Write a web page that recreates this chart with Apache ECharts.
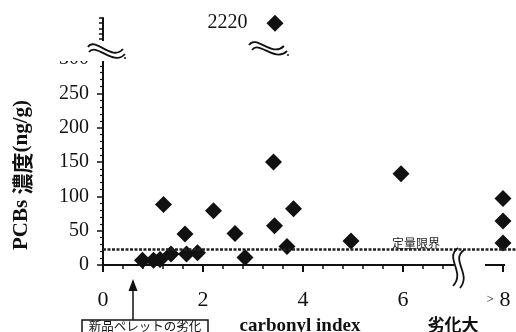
<!DOCTYPE html>
<html>
<head>
<meta charset="utf-8">
<script src="https://cdn.jsdelivr.net/npm/echarts@6/dist/echarts.min.js"></script>
<style>
  html, body { margin: 0; padding: 0; background: #fff; }
  #chart { width: 516px; height: 332px; }
</style>
</head>
<body>
<div id="chart"></div>
<script>
// carbonyl index vs PCBs concentration (ng/g)
var points = [
  [0.79, 7], [1.01, 7], [1.14, 8],
  [1.36, 16], [1.67, 16], [1.89, 18],
  [1.64, 45], [1.21, 88], [2.21, 79],
  [2.64, 46], [2.84, 11],
  [3.41, 150], [3.81, 82], [3.43, 57], [3.68, 27],
  [4.96, 35], [5.96, 133],
  [8, 97], [8, 64], [8, 32]
];
var outlier = [[3.44, 2220]];
var loq = 23; // 定量限界

var xLabelValues = [0, 2, 4, 6, 8];
var xMajorTicks = [0, 2, 4, 6, 8];
var xMinorTicks = [0.4, 0.8, 1.2, 1.6, 2.4, 2.8, 3.2, 3.6, 4.4, 4.8, 5.2, 5.6, 6.4, 6.8];

var SERIF = "'Liberation Serif', 'Times New Roman', serif";
var CJK = "'Noto Sans CJK JP', 'Noto Sans', sans-serif";
var INK = '#111';

var chart = echarts.init(document.getElementById('chart'));

function curve(x1, y1, cx1, cy1, cx2, cy2, x2, y2) {
  return {
    type: 'bezierCurve', z: 110,
    shape: { x1: x1, y1: y1, cpx1: cx1, cpy1: cy1, cpx2: cx2, cpy2: cy2, x2: x2, y2: y2 },
    style: { stroke: INK, lineWidth: 1.8, fill: null }
  };
}

chart.setOption({
  animation: false,
  backgroundColor: '#fff',
  grid: [
    { left: 103, right: 0, top: 59, bottom: 67 },
    { left: 103, right: 0, top: 18, height: 26 }
  ],
  xAxis: [
    {
      gridIndex: 0, type: 'value', min: 0, max: 8.26,
      axisLine: { show: true, onZero: false, lineStyle: { color: INK, width: 2 } },
      axisTick: { show: true, customValues: xMajorTicks, length: 7, lineStyle: { color: INK, width: 2 } },
      axisLabel: {
        customValues: xLabelValues, margin: 24, color: INK, fontSize: 22, fontFamily: SERIF,
        formatter: function (v) { return v === 8 ? '{s|>} {v|8}' : String(v); },
        rich: {
          s: { fontSize: 13, fontFamily: SERIF, color: INK },
          v: { fontSize: 22, fontFamily: SERIF, color: INK, padding: [0, 9, 0, 0] }
        }
      },
      splitLine: { show: false }
    },
    {
      gridIndex: 0, type: 'value', min: 0, max: 8.26, position: 'bottom',
      axisLine: { show: false },
      axisTick: { show: true, customValues: xMinorTicks, length: 4, lineStyle: { color: INK, width: 1.5 } },
      axisLabel: { show: false },
      splitLine: { show: false }
    },
    { gridIndex: 1, type: 'value', min: 0, max: 8.26, show: false }
  ],
  yAxis: [
    {
      gridIndex: 0, type: 'value', min: 0, max: 300, interval: 50,
      axisLine: { show: true, onZero: false, lineStyle: { color: INK, width: 2 } },
      axisTick: { show: true, length: 6, lineStyle: { color: INK, width: 1.5 } },
      minorTick: { show: true, splitNumber: 5, length: 3, lineStyle: { color: INK, width: 1.2 } },
      axisLabel: { margin: 14, color: INK, fontSize: 20, fontFamily: SERIF },
      splitLine: { show: false }
    },
    {
      gridIndex: 1, type: 'value', min: 2180, max: 2230, interval: 10,
      axisLine: { show: true, onZero: false, lineStyle: { color: INK, width: 2 } },
      axisTick: { show: true, length: 4, lineStyle: { color: INK, width: 1.5 } },
      axisLabel: { show: false },
      splitLine: { show: false }
    }
  ],
  series: [
    {
      type: 'scatter', xAxisIndex: 0, yAxisIndex: 0, data: points,
      symbol: 'diamond', symbolSize: 17, clip: false,
      itemStyle: { color: INK, opacity: 1 },
      markLine: {
        silent: true, symbol: 'none', label: { show: false },
        lineStyle: { color: '#222', type: [3, 1.5], width: 2.5, opacity: 1 },
        data: [{ yAxis: loq }]
      }
    },
    {
      type: 'scatter', xAxisIndex: 2, yAxisIndex: 1, data: outlier,
      symbol: 'diamond', symbolSize: 17, clip: false,
      itemStyle: { color: INK, opacity: 1 },
      label: {
        show: true, position: 'left', distance: 19, color: INK, fontSize: 20, fontFamily: SERIF,
        formatter: function (p) { return String(p.value[1]); }
      }
    }
  ],
  graphic: [
    // axis breaks: white cover + wavy marks
    { type: 'rect', z: 100, shape: { x: 40, y: 41, width: 66, height: 20 }, style: { fill: '#fff' } },
    { type: 'rect', z: 100, shape: { x: 454, y: 261, width: 31, height: 14 }, style: { fill: '#fff' } },
    { type: 'rect', z: 100, shape: { x: 505, y: 261, width: 11, height: 5 }, style: { fill: '#fff' } },
    curve(88, 47, 95, 36, 112, 62, 123, 49),
    curve(89, 52, 96, 42, 114, 67, 125, 54),
    { type: 'circle', z: 110, shape: { cx: 125, cy: 58, r: 1 }, style: { fill: INK } },
    curve(249, 45, 256, 34, 272, 58, 284, 46),
    curve(252, 50, 259, 40, 275, 63, 287, 51),
    { type: 'circle', z: 110, shape: { cx: 288, cy: 55, r: 1 }, style: { fill: INK } },
    curve(458, 248, 444, 258, 466, 272, 453, 286),
    curve(464, 250, 450, 260, 472, 274, 460, 288),
    // labels
    {
      type: 'text', z: 110, x: 392, y: 243,
      style: { text: '定量限界', font: '12px ' + CJK, fill: '#222', verticalAlign: 'middle' }
    },
    {
      type: 'text', z: 110, x: 22, y: 175, rotation: Math.PI / 2,
      style: {
        text: '{a|PCBs }{b|濃度}{a|(ng/g)}', align: 'center', verticalAlign: 'middle',
        rich: {
          a: { fontSize: 21, fontWeight: 'bold', fontFamily: SERIF, fill: INK },
          b: { fontSize: 21, fontWeight: 'bold', fontFamily: CJK, fill: INK }
        }
      }
    },
    {
      type: 'text', z: 110, x: 300, y: 326,
      style: { text: 'carbonyl index', font: 'bold 19px ' + SERIF, fill: INK, align: 'center', verticalAlign: 'middle' }
    },
    {
      type: 'text', z: 110, x: 453, y: 325,
      style: { text: '劣化大', font: 'bold 17px ' + CJK, fill: INK, align: 'center', verticalAlign: 'middle' }
    },
    {
      type: 'rect', z: 110, shape: { x: 82, y: 320, width: 126, height: 16 },
      style: { fill: '#fff', stroke: INK, lineWidth: 1.5 }
    },
    {
      type: 'text', z: 111, x: 145, y: 326.5,
      style: { text: '新品ペレットの劣化', font: '12.5px ' + CJK, fill: INK, align: 'center', verticalAlign: 'middle' }
    },
    { type: 'line', z: 110, shape: { x1: 133, y1: 320, x2: 133, y2: 288 }, style: { stroke: INK, lineWidth: 1.5 } },
    { type: 'polygon', z: 110, shape: { points: [[133, 279], [128.5, 291], [137.5, 291]] }, style: { fill: INK } }
  ]
});
</script>
</body>
</html>
